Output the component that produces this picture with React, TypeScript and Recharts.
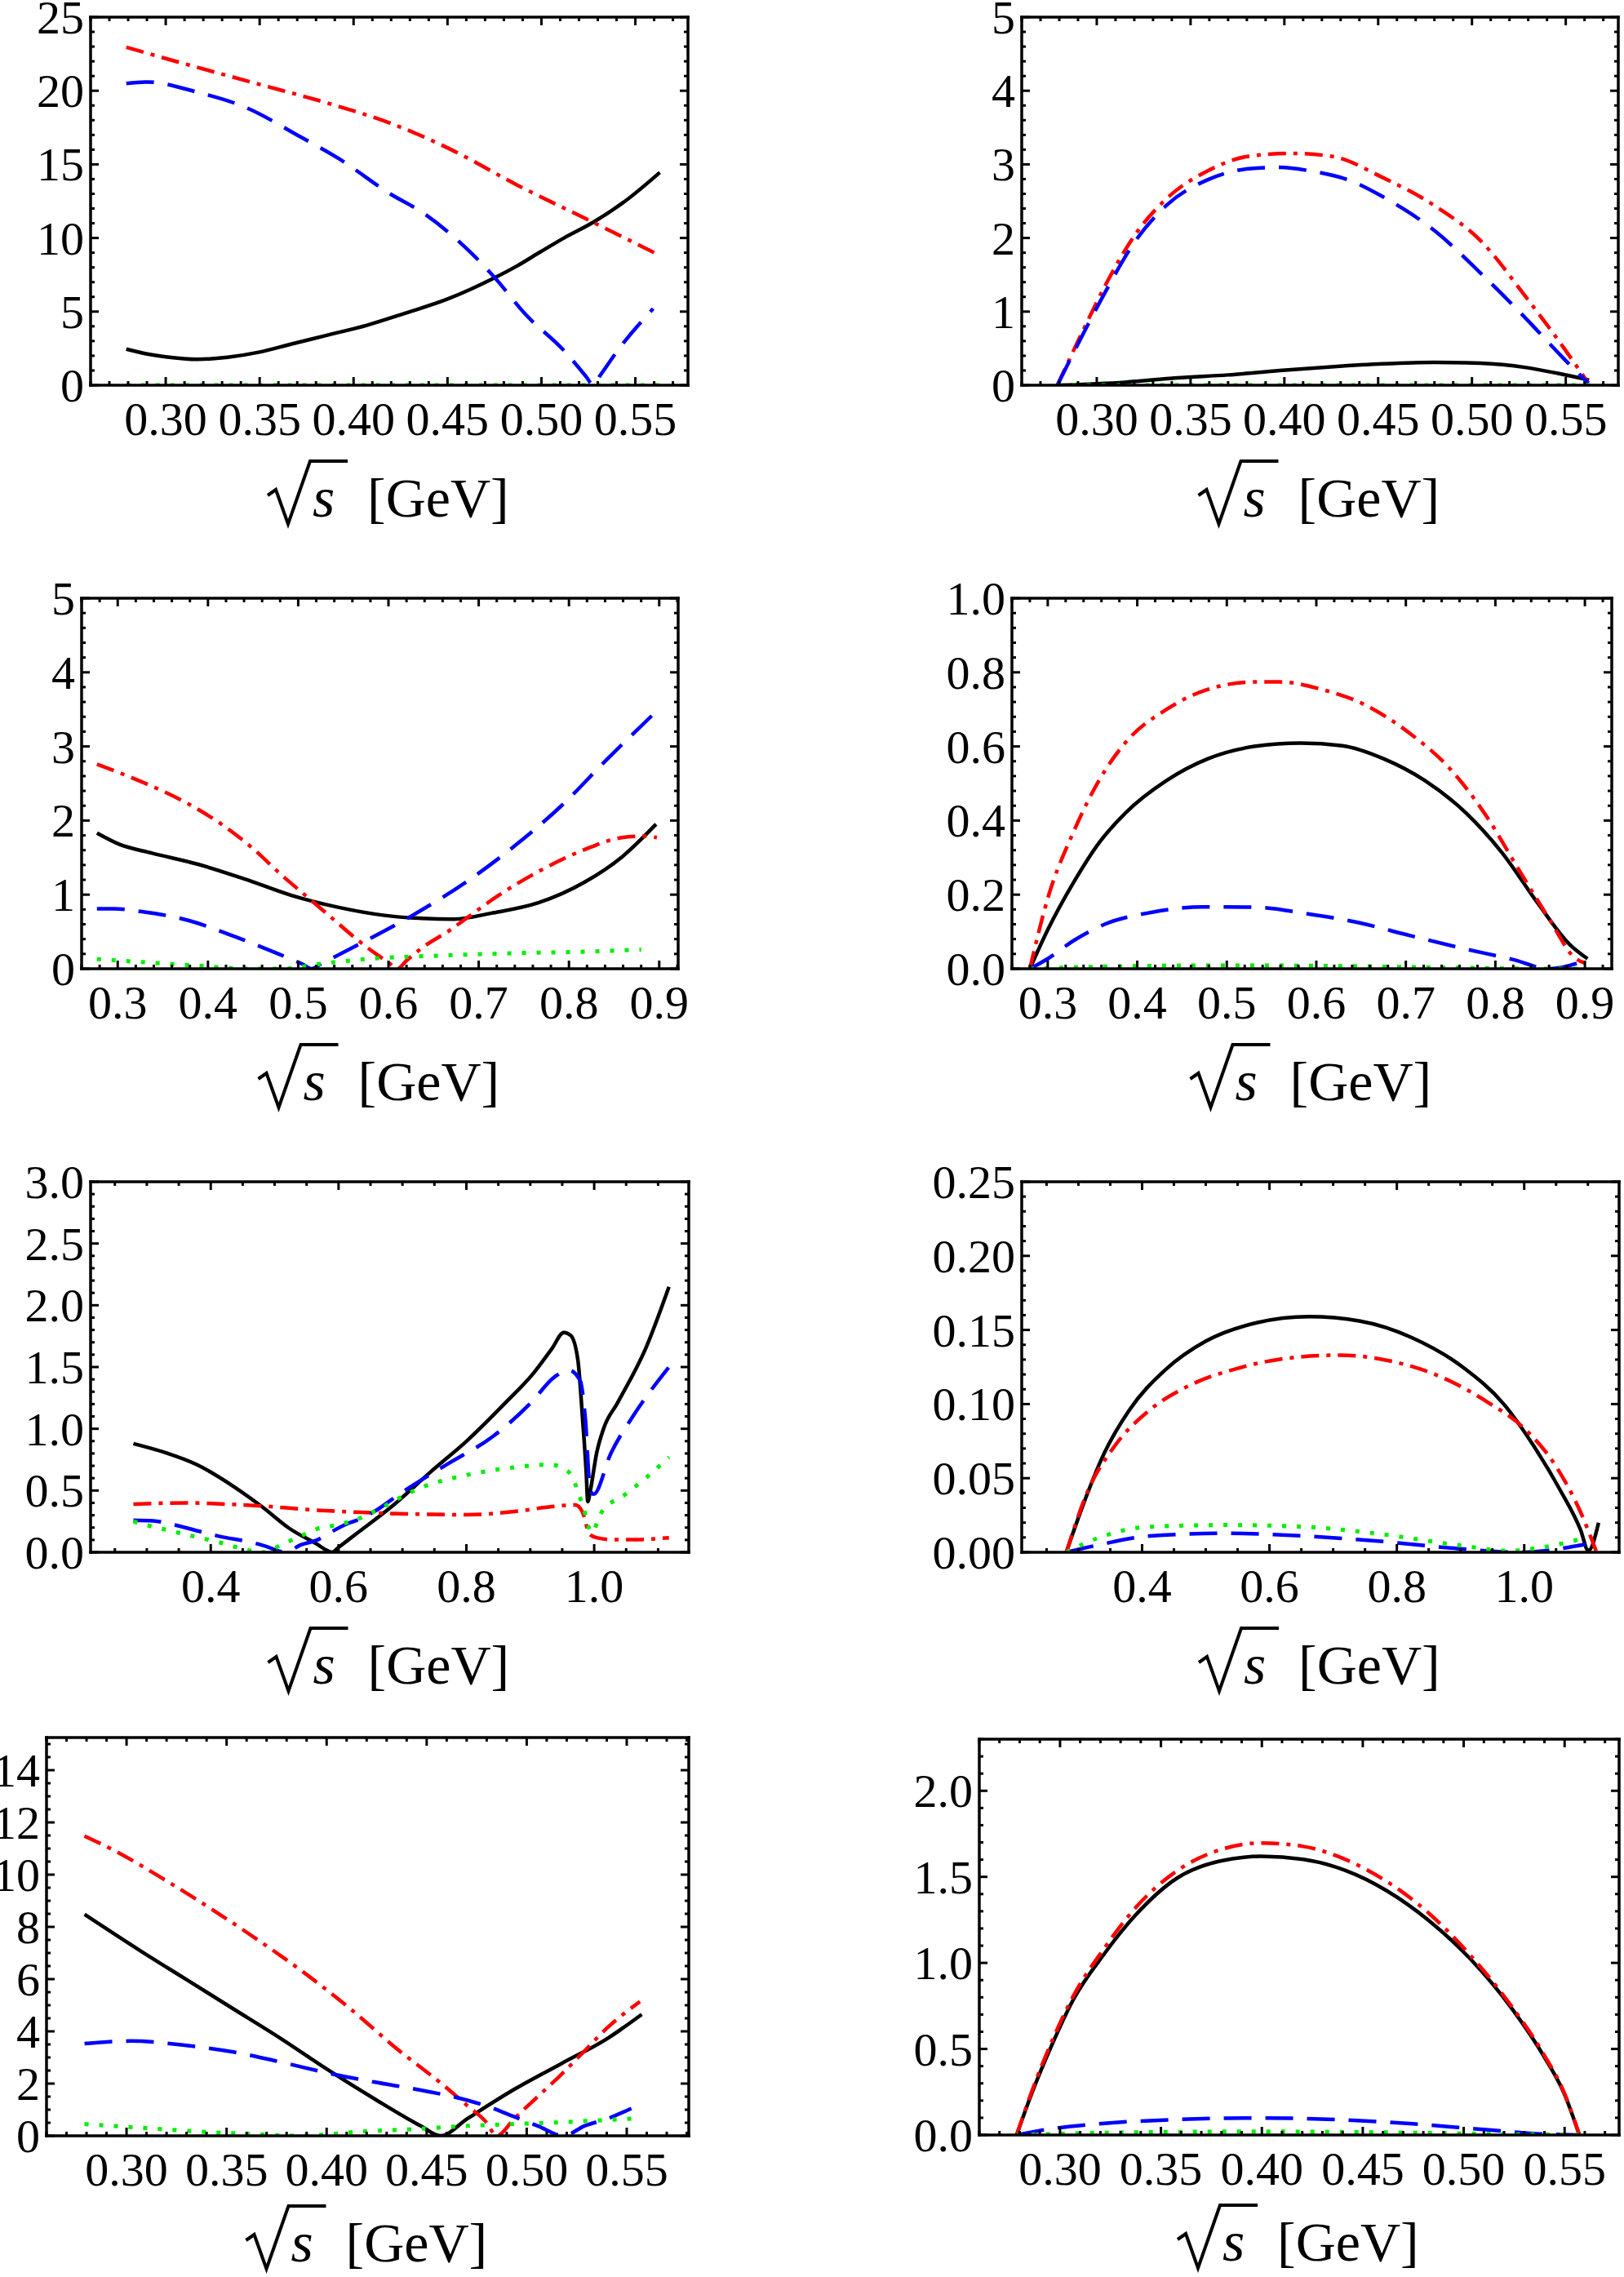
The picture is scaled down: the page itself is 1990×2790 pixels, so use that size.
import React from 'react';
import { LineChart, Line, XAxis, YAxis } from 'recharts';

type Pt = [number, number];

const FONT = '"Liberation Serif", "Times New Roman", serif';

// panel 1 (top left)
const p1Black: Pt[] = [[0.279, 2.45], [0.289, 2.15], [0.3, 1.93], [0.317, 1.76], [0.333, 1.9], [0.35, 2.25], [0.367, 2.8], [0.387, 3.43], [0.407, 4.07], [0.427, 4.87], [0.45, 5.85], [0.462, 6.5], [0.4745, 7.26], [0.487, 8.1], [0.4995, 9.06], [0.512, 10.0], [0.528, 11.1], [0.5445, 12.5], [0.563, 14.45]];
const p1Red: Pt[] = [[0.279, 22.96], [0.312, 21.76], [0.3495, 20.45], [0.387, 19.13], [0.4195, 17.8], [0.452, 16.0], [0.487, 13.6], [0.527, 11.1], [0.563, 8.82]];
const p1Blue: Pt[] = [[0.279, 20.5], [0.2895, 20.6], [0.317, 19.9], [0.342, 18.9], [0.372, 16.85], [0.392, 15.4], [0.4195, 13.0], [0.437, 11.7], [0.462, 9.06], [0.4745, 7.4], [0.492, 4.75], [0.512, 2.35], [0.524, 0.55], [0.5275, 0], [0.531, 0.62], [0.542, 2.6], [0.5595, 5.2]];
const p1Green: Pt[] = [[0.279, 0], [0.563, 0]];

// panel 2 (top right)
const p2Black: Pt[] = [[0.279, 0], [0.315, 0.04], [0.3426, 0.1], [0.37, 0.14], [0.3975, 0.2], [0.425, 0.25], [0.4525, 0.29], [0.48, 0.31], [0.5047, 0.3], [0.529, 0.24], [0.5459, 0.16], [0.5624, 0.07]];
const p2Red: Pt[] = [[0.279, 0], [0.293, 0.76], [0.304, 1.33], [0.3206, 2.05], [0.337, 2.53], [0.359, 2.91], [0.381, 3.11], [0.403, 3.15], [0.425, 3.11], [0.4525, 2.82], [0.48, 2.44], [0.5047, 1.96], [0.529, 1.19], [0.5486, 0.52], [0.562, 0.03]];
const p2Blue: Pt[] = [[0.279, 0], [0.293, 0.71], [0.304, 1.24], [0.3206, 1.96], [0.337, 2.44], [0.359, 2.79], [0.381, 2.94], [0.3975, 2.96], [0.414, 2.91], [0.436, 2.77], [0.4525, 2.56], [0.48, 2.1], [0.5047, 1.52], [0.529, 0.9], [0.5486, 0.37], [0.562, 0.03]];
const p2Green: Pt[] = [[0.279, 0], [0.563, 0]];

// panel 3
const p3Black: Pt[] = [[0.277, 1.83], [0.3015, 1.68], [0.338, 1.56], [0.389, 1.41], [0.441, 1.21], [0.4925, 0.99], [0.544, 0.83], [0.5957, 0.72], [0.637, 0.68], [0.673, 0.67], [0.714, 0.75], [0.766, 0.89], [0.8175, 1.17], [0.8588, 1.51], [0.8965, 1.95]];
const p3Red: Pt[] = [[0.277, 2.76], [0.327, 2.52], [0.379, 2.22], [0.415, 1.95], [0.451, 1.61], [0.482, 1.26], [0.508, 0.99], [0.534, 0.72], [0.5647, 0.4], [0.585, 0.21], [0.6, 0.084], [0.61, 0], [0.62, 0.11], [0.637, 0.28], [0.668, 0.52], [0.6886, 0.7], [0.7195, 0.97], [0.766, 1.31], [0.8175, 1.61], [0.8588, 1.77], [0.8846, 1.79], [0.8975, 1.77]];
const p3Blue: Pt[] = [[0.277, 0.81], [0.296, 0.81], [0.327, 0.77], [0.379, 0.65], [0.4305, 0.43], [0.482, 0.18], [0.505, 0.06], [0.515, 0], [0.525, 0.063], [0.5595, 0.28], [0.6266, 0.72], [0.6885, 1.19], [0.74, 1.66], [0.7917, 2.2], [0.8433, 2.84], [0.8965, 3.47]];
const p3Green: Pt[] = [[0.277, 0.13], [0.327, 0.09], [0.389, 0.04], [0.446, 0], [0.48, 0], [0.5337, 0.08], [0.585, 0.14], [0.6627, 0.18], [0.74, 0.21], [0.8175, 0.23], [0.88, 0.26]];

// panel 4
const p4Black: Pt[] = [[0.28, 0], [0.3, 0.105], [0.3289, 0.233], [0.3577, 0.341], [0.3866, 0.42], [0.4327, 0.508], [0.479, 0.567], [0.5308, 0.6], [0.5827, 0.609], [0.6289, 0.602], [0.675, 0.567], [0.7212, 0.508], [0.7674, 0.42], [0.8078, 0.312], [0.8482, 0.174], [0.8828, 0.066], [0.903, 0.027]];
const p4Red: Pt[] = [[0.28, 0], [0.3, 0.19], [0.3289, 0.37], [0.3577, 0.51], [0.3866, 0.61], [0.4327, 0.7], [0.479, 0.754], [0.5308, 0.774], [0.5597, 0.774], [0.6058, 0.754], [0.652, 0.715], [0.704, 0.636], [0.75, 0.538], [0.7905, 0.41], [0.825, 0.272], [0.86, 0.135], [0.8885, 0.03], [0.9, 0.015]];
const p4Blue: Pt[] = [[0.28, 0], [0.3, 0.027], [0.3289, 0.076], [0.3635, 0.12], [0.4154, 0.152], [0.4731, 0.167], [0.5308, 0.166], [0.5885, 0.149], [0.6462, 0.125], [0.7039, 0.09], [0.7616, 0.056], [0.8193, 0.025], [0.8597, 0], [0.903, 0.025]];
const p4Green: Pt[] = [[0.28, 0], [0.3866, 0.007], [0.5, 0.009], [0.6, 0.008], [0.75, 0.003], [0.85, 0], [0.9, 0]];

// panel 5
const p5Black: Pt[] = [[0.279, 0.88], [0.327, 0.81], [0.378, 0.71], [0.4366, 0.53], [0.48, 0.37], [0.524, 0.19], [0.568, 0.06], [0.58, 0.02], [0.59, 0], [0.6, 0.04], [0.627, 0.147], [0.6854, 0.38], [0.7439, 0.65], [0.8024, 0.91], [0.861, 1.21], [0.905, 1.45], [0.934, 1.65], [0.9524, 1.78], [0.9634, 1.755], [0.9744, 1.56], [0.9817, 1.09], [0.9875, 0.65], [0.99, 0.41], [0.994, 0.5], [1.0037, 0.8], [1.0146, 1.0], [1.0366, 1.21], [1.0805, 1.65], [1.117, 2.15]];
const p5Red: Pt[] = [[0.279, 0.39], [0.363, 0.4], [0.422, 0.39], [0.48, 0.375], [0.5537, 0.345], [0.6268, 0.325], [0.7146, 0.31], [0.8024, 0.304], [0.8756, 0.33], [0.934, 0.37], [0.9707, 0.384], [0.9817, 0.325], [0.9927, 0.147], [1.0037, 0.118], [1.029, 0.103], [1.0658, 0.103], [1.117, 0.118]];
const p5Blue: Pt[] = [[0.279, 0.26], [0.31, 0.255], [0.336, 0.23], [0.382, 0.17], [0.413, 0.13], [0.464, 0.08], [0.485, 0.05], [0.517, 0], [0.541, 0.06], [0.567, 0.1], [0.587, 0.16], [0.613, 0.23], [0.634, 0.27], [0.656, 0.33], [0.695, 0.47], [0.769, 0.71], [0.842, 0.94], [0.901, 1.21], [0.938, 1.42], [0.96, 1.475], [0.978, 1.39], [0.986, 1.09], [0.994, 0.5], [0.999, 0.47], [1.026, 0.8], [1.063, 1.12], [1.117, 1.5]];
const p5Green: Pt[] = [[0.279, 0.25], [0.307, 0.21], [0.335, 0.177], [0.364, 0.14], [0.393, 0.106], [0.421, 0.07], [0.448, 0.03], [0.47, 0.005], [0.485, 0], [0.51, 0.06], [0.536, 0.12], [0.567, 0.19], [0.596, 0.22], [0.626, 0.26], [0.659, 0.34], [0.732, 0.53], [0.805, 0.63], [0.879, 0.69], [0.931, 0.71], [0.96, 0.65], [0.982, 0.38], [0.996, 0.16], [1.011, 0.32], [1.049, 0.47], [1.085, 0.62], [1.117, 0.77]];

// panel 6
const p6Black: Pt[] = [[0.281, 0], [0.3074, 0.032], [0.3396, 0.066], [0.38, 0.096], [0.4362, 0.123], [0.5007, 0.1426], [0.5812, 0.155], [0.6617, 0.159], [0.7423, 0.156], [0.8228, 0.145], [0.9033, 0.125], [0.9678, 0.1], [1.016, 0.071], [1.0564, 0.042], [1.0886, 0.015], [1.1007, 0.001], [1.1168, 0.02]];
const p6Red: Pt[] = [[0.281, 0], [0.3154, 0.042], [0.3557, 0.071], [0.412, 0.096], [0.4765, 0.113], [0.549, 0.124], [0.6295, 0.131], [0.71, 0.133], [0.7906, 0.129], [0.871, 0.118], [0.9436, 0.101], [1.0, 0.0836], [1.0483, 0.059], [1.0886, 0.027], [1.1128, 0.001]];
const p6Blue: Pt[] = [[0.281, 0], [0.3315, 0.0049], [0.412, 0.011], [0.5329, 0.0128], [0.6537, 0.011], [0.7745, 0.0074], [0.8953, 0.0025], [0.992, 0], [1.0966, 0.0054]];
const p6Green: Pt[] = [[0.281, 0], [0.3315, 0.0098], [0.412, 0.0172], [0.5329, 0.0184], [0.6537, 0.0172], [0.7745, 0.0123], [0.8953, 0.0049], [0.9758, 0.001], [1.016, 0.0025], [1.0966, 0.0098]];

// panel 7
const p7Black: Pt[] = [[0.279, 8.48], [0.3066, 7.1], [0.33, 5.98], [0.3534, 4.86], [0.3768, 3.74], [0.4002, 2.55], [0.4236, 1.43], [0.447, 0.38], [0.457, 0], [0.4704, 0.66], [0.4938, 1.78], [0.5172, 2.76], [0.5406, 3.74], [0.5575, 4.65]];
const p7Red: Pt[] = [[0.279, 11.48], [0.2948, 10.89], [0.3183, 9.84], [0.3417, 8.72], [0.3651, 7.53], [0.3885, 6.26], [0.4119, 4.86], [0.4353, 3.32], [0.4587, 1.92], [0.4704, 1.15], [0.4798, 0.52], [0.485, 0], [0.4938, 0.66], [0.5055, 1.5], [0.5172, 2.34], [0.5289, 3.25], [0.5406, 4.16], [0.5566, 5.14]];
const p7Blue: Pt[] = [[0.279, 3.53], [0.3019, 3.63], [0.33, 3.46], [0.3534, 3.21], [0.3768, 2.83], [0.4002, 2.41], [0.4236, 2.06], [0.447, 1.75], [0.4704, 1.36], [0.4821, 1.08], [0.4938, 0.73], [0.5055, 0.38], [0.5184, 0], [0.5289, 0.38], [0.5406, 0.66], [0.5523, 1.05]];
const p7Green: Pt[] = [[0.279, 0.45], [0.3066, 0.31], [0.3346, 0.17], [0.3651, 0.06], [0.3861, 0], [0.4189, 0.17], [0.447, 0.27], [0.4704, 0.38], [0.4938, 0.45], [0.5172, 0.52], [0.536, 0.59], [0.5523, 0.66]];

// panel 8
const p8Black: Pt[] = [[0.2785, 0], [0.2858, 0.236], [0.2961, 0.527], [0.3065, 0.785], [0.322, 1.054], [0.3376, 1.28], [0.3583, 1.495], [0.379, 1.591], [0.3997, 1.619], [0.4205, 1.602], [0.4412, 1.538], [0.4619, 1.419], [0.4826, 1.247], [0.5034, 1.022], [0.5241, 0.731], [0.5396, 0.46], [0.55, 0.235], [0.5573, 0]];
const p8Red: Pt[] = [[0.2785, 0], [0.2858, 0.247], [0.2961, 0.548], [0.3065, 0.806], [0.322, 1.086], [0.3376, 1.323], [0.3583, 1.538], [0.379, 1.656], [0.3997, 1.697], [0.4205, 1.677], [0.4412, 1.602], [0.4619, 1.473], [0.4826, 1.29], [0.5034, 1.043], [0.5241, 0.742], [0.5396, 0.47], [0.55, 0.24], [0.5573, 0]];
const p8Blue: Pt[] = [[0.2785, 0], [0.2935, 0.032], [0.3194, 0.065], [0.3583, 0.09], [0.3997, 0.099], [0.436, 0.09], [0.4749, 0.065], [0.5137, 0.028], [0.5396, 0.006], [0.5573, 0]];
const p8Green: Pt[] = [[0.2785, 0], [0.3324, 0.015], [0.3997, 0.02], [0.4619, 0.015], [0.5267, 0.004], [0.5573, 0]];

// tick labels
const xLow = ['0.30', '0.35', '0.40', '0.45', '0.50', '0.55'];
const xMid = ['0.3', '0.4', '0.5', '0.6', '0.7', '0.8', '0.9'];
const xWide = ['0.4', '0.6', '0.8', '1.0'];
const y25 = ['0', '5', '10', '15', '20', '25'];
const y5 = ['0', '1', '2', '3', '4', '5'];
const y1 = ['0.0', '0.2', '0.4', '0.6', '0.8', '1.0'];
const y3 = ['0.0', '0.5', '1.0', '1.5', '2.0', '2.5', '3.0'];
const y025 = ['0.00', '0.05', '0.10', '0.15', '0.20', '0.25'];
const y14 = ['0', '2', '4', '6', '8', '10', '12', '14'];
const y2 = ['0.0', '0.5', '1.0', '1.5', '2.0'];

interface Panel {
  frame: [number, number, number, number];
  xDomain: [number, number];
  yDomain: [number, number];
  xLabels: string[];
  yLabels: string[];
  xMinor: number;
  yMinor: number;
  black: Pt[];
  red: Pt[];
  blue: Pt[];
  green: Pt[];
}

const panels: Panel[] = [
  { frame: [111, 21, 843, 472], xDomain: [0.26, 0.578], yDomain: [0, 25], xLabels: xLow, yLabels: y25, xMinor: 0.01, yMinor: 1, black: p1Black, red: p1Red, blue: p1Blue, green: p1Green },
  { frame: [1252, 21, 1983, 472], xDomain: [0.26, 0.578], yDomain: [0, 5], xLabels: xLow, yLabels: y5, xMinor: 0.01, yMinor: 0.2, black: p2Black, red: p2Red, blue: p2Blue, green: p2Green },
  { frame: [100, 733, 831, 1187], xDomain: [0.26, 0.921], yDomain: [0, 5], xLabels: xMid, yLabels: y5, xMinor: 0.02, yMinor: 0.2, black: p3Black, red: p3Red, blue: p3Blue, green: p3Green },
  { frame: [1240, 733, 1975, 1187], xDomain: [0.26, 0.93], yDomain: [0, 1], xLabels: xMid, yLabels: y1, xMinor: 0.02, yMinor: 0.04, black: p4Black, red: p4Red, blue: p4Blue, green: p4Green },
  { frame: [111, 1448, 844, 1902], xDomain: [0.212, 1.148], yDomain: [0, 3], xLabels: xWide, yLabels: y3, xMinor: 0.05, yMinor: 0.1, black: p5Black, red: p5Red, blue: p5Blue, green: p5Green },
  { frame: [1252, 1448, 1984, 1902], xDomain: [0.211, 1.149], yDomain: [0, 0.25], xLabels: xWide, yLabels: y025, xMinor: 0.05, yMinor: 0.01, black: p6Black, red: p6Red, blue: p6Blue, green: p6Green },
  { frame: [57, 2129, 844, 2617], xDomain: [0.26, 0.581], yDomain: [0, 15.25], xLabels: xLow, yLabels: y14, xMinor: 0.01, yMinor: 0.5, black: p7Black, red: p7Red, blue: p7Blue, green: p7Green },
  { frame: [1200, 2131, 1984, 2616], xDomain: [0.26, 0.577], yDomain: [0, 2.3], xLabels: xLow, yLabels: y2, xMinor: 0.01, yMinor: 0.1, black: p8Black, red: p8Red, blue: p8Blue, green: p8Green },
];

// space around each plot frame; axes take 1px each, so margins are reduced by 1
const ML = 140;
const MT = 40;
const MB = 200;
const AX = 1;
const TICK_FONT = 58;

const axisStyle = { stroke: '#000', strokeWidth: 3.5, strokeLinecap: 'square' as const };

const toPts = (a: Pt[]) => a.map(([x, y]) => ({ x, y }));

const tickSet = (domain: [number, number], majors: number[], step: number) => {
  const out: number[] = [...majors];
  const start = Math.ceil(domain[0] / step - 1e-9);
  for (let i = start; i * step <= domain[1] + 1e-9; i++) {
    const v = Math.round(i * step * 1e6) / 1e6;
    if (!out.some((m) => Math.abs(m - v) < 1e-6)) out.push(v);
  }
  return out.filter((v) => v >= domain[0] - 1e-9 && v <= domain[1] + 1e-9).sort((a, b) => a - b);
};

const makeTick = (side: 'bottom' | 'top' | 'left' | 'right', majors: number[], labels: string[]) => (props: any) => {
  const { x, y, payload } = props;
  const idx = majors.findIndex((m) => Math.abs(m - payload.value) < 1e-6);
  const len = idx >= 0 ? 10 : 5;
  const line = { stroke: '#000', strokeWidth: 3 };
  if (side === 'bottom') {
    return (
      <g>
        <line x1={x} y1={y} x2={x} y2={y - len} {...line} />
        {idx >= 0 && labels.length > 0 && (
          <text x={x} y={y + 61} textAnchor="middle" fontSize={TICK_FONT} fontFamily={FONT} fill="#000">{labels[idx]}</text>
        )}
      </g>
    );
  }
  if (side === 'top') return <line x1={x} y1={y} x2={x} y2={y + len} {...line} />;
  if (side === 'right') return <line x1={x} y1={y} x2={x - len} y2={y} {...line} />;
  return (
    <g>
      <line x1={x} y1={y} x2={x + len} y2={y} {...line} />
      {idx >= 0 && labels.length > 0 && (
        <text x={x - 8} y={y + 20} textAnchor="end" fontSize={TICK_FONT} fontFamily={FONT} fill="#000">{labels[idx]}</text>
      )}
    </g>
  );
};

// "√s [GeV]" drawn around its centre point and baseline
const sqrtLabel = (cx: number, by: number) => (
  <g transform={`translate(${cx},${by})`}>
    <path d="M -149 -26 L -139 -33 L -124 9 L -97 -68 L -51 -68" fill="none" stroke="#000" strokeWidth={4} strokeLinejoin="miter" />
    <text x={-94} y={0} fontSize={70} fontStyle="italic" fontFamily={FONT} fill="#000">s</text>
    <text x={-27} y={0} fontSize={68} fontFamily={FONT} fill="#000">[GeV]</text>
  </g>
);

const PanelChart = ({ p }: { p: Panel }) => {
  const [l, t, r, b] = p.frame;
  const w = r - l;
  const h = b - t;
  const MR = r > 1900 ? 6 : 60;
  const labelDrop = b > 2500 ? 154 : 161;
  const xMajor = p.xLabels.map(Number);
  const yMajor = p.yLabels.map(Number);
  const xt = tickSet(p.xDomain, xMajor, p.xMinor);
  const yt = tickSet(p.yDomain, yMajor, p.yMinor);
  const common = { type: 'number' as const, allowDataOverflow: true, interval: 0 as const, tickLine: false, tickSize: 0, tickMargin: 0, axisLine: axisStyle };
  const lineCommon = { xAxisId: 'b', yAxisId: 'l', dataKey: 'y', type: 'monotone' as const, dot: false, activeDot: false, isAnimationActive: false };
  return (
    <div style={{ position: 'absolute', left: l - ML, top: t - MT }}>
      <LineChart width={w + ML + MR} height={h + MT + MB} margin={{ top: MT - AX, right: MR - AX, bottom: MB - AX, left: ML - AX }}>
        <XAxis xAxisId="b" dataKey="x" {...common} domain={p.xDomain} ticks={xt} height={AX}
          tick={makeTick('bottom', xMajor, p.xLabels)}
          label={{ content: () => sqrtLabel(ML + w / 2, MT + h + labelDrop) }} />
        <XAxis xAxisId="t" orientation="top" dataKey="x" {...common} domain={p.xDomain} ticks={xt} height={AX}
          tick={makeTick('top', xMajor, [])} />
        <YAxis yAxisId="l" dataKey="y" {...common} domain={p.yDomain} ticks={yt} width={AX}
          tick={makeTick('left', yMajor, p.yLabels)} />
        <YAxis yAxisId="r" orientation="right" dataKey="y" {...common} domain={p.yDomain} ticks={yt} width={AX}
          tick={makeTick('right', yMajor, [])} />
        <Line {...lineCommon} data={toPts(p.black)} stroke="#000" strokeWidth={4.5} />
        <Line {...lineCommon} data={toPts(p.red)} stroke="#ff0000" strokeWidth={4.5} strokeDasharray="22 9 5 9" />
        <Line {...lineCommon} data={toPts(p.blue)} stroke="#0000ff" strokeWidth={4.5} strokeDasharray="34 17" />
        <Line {...lineCommon} data={toPts(p.green)} stroke="#00ee00" strokeWidth={5} strokeDasharray="5 13" />
      </LineChart>
    </div>
  );
};

export default function App() {
  return (
    <div style={{ position: 'absolute', left: 0, top: 0, width: 1990, height: 2790, overflow: 'hidden', background: '#fff' }}>
      {panels.map((p, i) => (
        <PanelChart key={i} p={p} />
      ))}
    </div>
  );
}
